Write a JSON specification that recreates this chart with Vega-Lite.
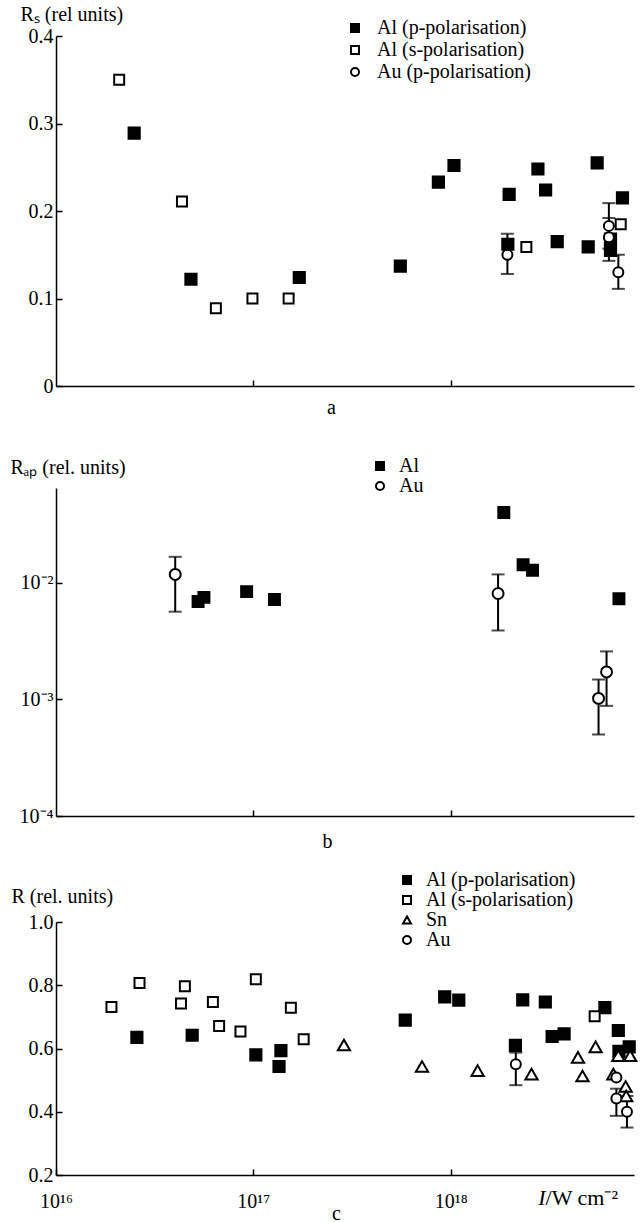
{
  "$schema": "https://vega.github.io/schema/vega-lite/v6.json",
  "padding": {"left": 10, "top": 4, "right": 4, "bottom": 2},
  "datasets": {
    "a": [
      {"I": 2.09e16, "R": 0.350, "s": "Al (s-polarisation)"},
      {"I": 4.35e16, "R": 0.211, "s": "Al (s-polarisation)"},
      {"I": 6.46e16, "R": 0.089, "s": "Al (s-polarisation)"},
      {"I": 9.9e16, "R": 0.100, "s": "Al (s-polarisation)"},
      {"I": 1.51e17, "R": 0.100, "s": "Al (s-polarisation)"},
      {"I": 2.42e18, "R": 0.159, "s": "Al (s-polarisation)"},
      {"I": 7.28e18, "R": 0.185, "s": "Al (s-polarisation)"},
      {"I": 2.49e16, "R": 0.289, "s": "Al (p-polarisation)"},
      {"I": 4.83e16, "R": 0.122, "s": "Al (p-polarisation)"},
      {"I": 1.71e17, "R": 0.124, "s": "Al (p-polarisation)"},
      {"I": 5.56e17, "R": 0.137, "s": "Al (p-polarisation)"},
      {"I": 8.67e17, "R": 0.233, "s": "Al (p-polarisation)"},
      {"I": 1.04e18, "R": 0.252, "s": "Al (p-polarisation)"},
      {"I": 1.98e18, "R": 0.219, "s": "Al (p-polarisation)"},
      {"I": 1.95e18, "R": 0.162, "s": "Al (p-polarisation)"},
      {"I": 2.77e18, "R": 0.248, "s": "Al (p-polarisation)"},
      {"I": 3.03e18, "R": 0.224, "s": "Al (p-polarisation)"},
      {"I": 3.47e18, "R": 0.165, "s": "Al (p-polarisation)"},
      {"I": 4.98e18, "R": 0.159, "s": "Al (p-polarisation)"},
      {"I": 5.53e18, "R": 0.255, "s": "Al (p-polarisation)"},
      {"I": 7.43e18, "R": 0.215, "s": "Al (p-polarisation)"},
      {"I": 6.46e18, "R": 0.168, "s": "Al (p-polarisation)"},
      {"I": 6.46e18, "R": 0.155, "s": "Al (p-polarisation)"},
      {"I": 1.94e18, "R": 0.150, "lo": 0.128, "hi": 0.174, "s": "Au (p-polarisation)"},
      {"I": 6.34e18, "R": 0.183, "lo": 0.157, "hi": 0.209, "s": "Au (p-polarisation)"},
      {"I": 6.34e18, "R": 0.170, "lo": 0.143, "hi": 0.192, "s": "Au (p-polarisation)"},
      {"I": 7.08e18, "R": 0.130, "lo": 0.111, "hi": 0.150, "s": "Au (p-polarisation)"}
    ],
    "b": [
      {"I": 5.25e16, "R": 0.0069, "s": "Al"},
      {"I": 5.62e16, "R": 0.0075, "s": "Al"},
      {"I": 9.25e16, "R": 0.0084, "s": "Al"},
      {"I": 1.28e17, "R": 0.0072, "s": "Al"},
      {"I": 1.86e18, "R": 0.0400, "s": "Al"},
      {"I": 2.33e18, "R": 0.0143, "s": "Al"},
      {"I": 2.60e18, "R": 0.0128, "s": "Al"},
      {"I": 7.13e18, "R": 0.0073, "s": "Al"},
      {"I": 4.02e16, "R": 0.0118, "lo": 0.00565, "hi": 0.0167, "s": "Au"},
      {"I": 1.74e18, "R": 0.0081, "lo": 0.0039, "hi": 0.0118, "s": "Au"},
      {"I": 5.62e18, "R": 0.00102, "lo": 0.0005, "hi": 0.00148, "s": "Au"},
      {"I": 6.17e18, "R": 0.00172, "lo": 0.00088, "hi": 0.00258, "s": "Au"}
    ],
    "c": [
      {"I": 1.91e16, "R": 0.731, "s": "Al (s-polarisation)"},
      {"I": 2.65e16, "R": 0.807, "s": "Al (s-polarisation)"},
      {"I": 4.30e16, "R": 0.742, "s": "Al (s-polarisation)"},
      {"I": 4.50e16, "R": 0.797, "s": "Al (s-polarisation)"},
      {"I": 6.24e16, "R": 0.747, "s": "Al (s-polarisation)"},
      {"I": 6.71e16, "R": 0.671, "s": "Al (s-polarisation)"},
      {"I": 8.61e16, "R": 0.654, "s": "Al (s-polarisation)"},
      {"I": 1.03e17, "R": 0.819, "s": "Al (s-polarisation)"},
      {"I": 1.55e17, "R": 0.729, "s": "Al (s-polarisation)"},
      {"I": 1.80e17, "R": 0.629, "s": "Al (s-polarisation)"},
      {"I": 5.37e18, "R": 0.702, "s": "Al (s-polarisation)"},
      {"I": 2.57e16, "R": 0.635, "s": "Al (p-polarisation)"},
      {"I": 4.90e16, "R": 0.642, "s": "Al (p-polarisation)"},
      {"I": 1.03e17, "R": 0.580, "s": "Al (p-polarisation)"},
      {"I": 1.38e17, "R": 0.593, "s": "Al (p-polarisation)"},
      {"I": 1.35e17, "R": 0.543, "s": "Al (p-polarisation)"},
      {"I": 5.89e17, "R": 0.690, "s": "Al (p-polarisation)"},
      {"I": 9.33e17, "R": 0.763, "s": "Al (p-polarisation)"},
      {"I": 1.10e18, "R": 0.753, "s": "Al (p-polarisation)"},
      {"I": 2.32e18, "R": 0.754, "s": "Al (p-polarisation)"},
      {"I": 3.02e18, "R": 0.747, "s": "Al (p-polarisation)"},
      {"I": 3.27e18, "R": 0.638, "s": "Al (p-polarisation)"},
      {"I": 3.76e18, "R": 0.646, "s": "Al (p-polarisation)"},
      {"I": 2.13e18, "R": 0.610, "s": "Al (p-polarisation)"},
      {"I": 6.05e18, "R": 0.729, "s": "Al (p-polarisation)"},
      {"I": 7.08e18, "R": 0.657, "s": "Al (p-polarisation)"},
      {"I": 7.13e18, "R": 0.591, "s": "Al (p-polarisation)"},
      {"I": 8.04e18, "R": 0.605, "s": "Al (p-polarisation)"},
      {"I": 2.88e17, "R": 0.611, "s": "Sn"},
      {"I": 7.16e17, "R": 0.543, "s": "Sn"},
      {"I": 1.37e18, "R": 0.530, "s": "Sn"},
      {"I": 2.57e18, "R": 0.519, "s": "Sn"},
      {"I": 4.42e18, "R": 0.572, "s": "Sn"},
      {"I": 4.66e18, "R": 0.513, "s": "Sn"},
      {"I": 5.43e18, "R": 0.605, "s": "Sn"},
      {"I": 6.68e18, "R": 0.519, "s": "Sn"},
      {"I": 7.08e18, "R": 0.577, "s": "Sn"},
      {"I": 7.71e18, "R": 0.480, "s": "Sn"},
      {"I": 8.13e18, "R": 0.577, "s": "Sn"},
      {"I": 7.76e18, "R": 0.450, "s": "Sn"},
      {"I": 2.14e18, "R": 0.550, "lo": 0.484, "hi": 0.587, "s": "Au"},
      {"I": 6.92e18, "R": 0.508, "s": "Au"},
      {"I": 6.92e18, "R": 0.442, "lo": 0.387, "hi": 0.473, "s": "Au"},
      {"I": 7.83e18, "R": 0.400, "lo": 0.350, "hi": 0.450, "s": "Au"}
    ],
    "clabel": [
      {"I": 3.03e18, "R": 0.2}
    ]
  },
  "config": {
    "font": "Liberation Serif",
    "view": {"stroke": null},
    "axis": {
      "domainColor": "black", "domainWidth": 1.5,
      "tickColor": "black", "tickWidth": 1.5, "tickSize": -6,
      "labelFont": "Liberation Serif", "labelFontSize": 20, "labelColor": "black",
      "titleFont": "Liberation Serif", "titleFontSize": 20, "titleFontWeight": "normal", "titleColor": "black",
      "grid": false
    },
    "legend": {
      "labelFont": "Liberation Serif", "labelFontSize": 20, "labelColor": "black",
      "padding": 0, "symbolStrokeWidth": 2, "symbolSize": 64
    }
  },
  "spacing": 19,
  "resolve": {"scale": {"x": "independent", "y": "independent", "shape": "independent", "fill": "independent", "stroke": "independent"}, "legend": {"shape": "independent", "fill": "independent", "stroke": "independent"}},
  "vconcat": [
    {
      "width": 578, "height": 350,
      "data": {"name": "a"},
      "encoding": {
        "x": {"field": "I", "type": "quantitative", "scale": {"type": "log", "domain": [1e16, 8.5e18], "nice": false},
          "axis": {"values": [1e17, 1e18], "labels": false, "title": ["a", " "], "titleLineHeight": 20, "titleX": 275, "titleY": 27, "titleBaseline": "alphabetic", "titleAlign": "center"}}
      },
      "layer": [
        {
          "transform": [{"filter": "isValid(datum.lo)"}],
          "mark": {"type": "rule", "color": "black", "strokeWidth": 2},
          "encoding": {
            "y": {"field": "lo", "type": "quantitative", "scale": {"domain": [0, 0.4], "nice": false},
              "axis": {"values": [0, 0.1, 0.2, 0.3, 0.4], "labelExpr": "datum.value == 0 ? '0' : format(datum.value, '.1f')", "labelPadding": 9,
                "title": "Rₛ (rel units)", "titleAngle": 0, "titleAlign": "left", "titleBaseline": "alphabetic", "titleX": -36, "titleY": -16}},
            "y2": {"field": "hi"}
          }
        },
        {
          "transform": [{"filter": "isValid(datum.lo)"}],
          "mark": {"type": "tick", "orient": "horizontal", "color": "black", "size": 13, "thickness": 2},
          "encoding": {"y": {"field": "lo", "type": "quantitative"}}
        },
        {
          "transform": [{"filter": "isValid(datum.hi)"}],
          "mark": {"type": "tick", "orient": "horizontal", "color": "black", "size": 13, "thickness": 2},
          "encoding": {"y": {"field": "hi", "type": "quantitative"}}
        },
        {
          "transform": [{"filter": "datum.s == 'Al (p-polarisation)'"}],
          "mark": {"type": "point", "filled": true, "strokeWidth": 2, "opacity": 1, "size": 125},
          "encoding": {
            "y": {"field": "R", "type": "quantitative"},
            "shape": {"field": "s", "type": "nominal", "scale": {"domain": ["Al (p-polarisation)", "Al (s-polarisation)", "Au (p-polarisation)"], "range": ["square", "square", "circle"]},
              "legend": {"orient": "none", "legendX": 289, "legendY": -18, "title": null, "labelOffset": 12, "rowPadding": 2}},
            "fill": {"field": "s", "type": "nominal", "scale": {"domain": ["Al (p-polarisation)", "Al (s-polarisation)", "Au (p-polarisation)"], "range": ["black", "white", "white"]},
              "legend": {"orient": "none", "legendX": 289, "legendY": -18, "title": null, "labelOffset": 12, "rowPadding": 2}},
            "stroke": {"field": "s", "type": "nominal", "scale": {"domain": ["Al (p-polarisation)", "Al (s-polarisation)", "Au (p-polarisation)"], "range": ["black", "black", "black"]},
              "legend": {"orient": "none", "legendX": 289, "legendY": -18, "title": null, "labelOffset": 12, "rowPadding": 2}}
          }
        },
        {
          "transform": [{"filter": "datum.s != 'Al (p-polarisation)'"}],
          "mark": {"type": "point", "filled": true, "strokeWidth": 2, "opacity": 1, "size": 100},
          "encoding": {
            "y": {"field": "R", "type": "quantitative"},
            "shape": {"field": "s", "type": "nominal", "scale": {"domain": ["Al (p-polarisation)", "Al (s-polarisation)", "Au (p-polarisation)"], "range": ["square", "square", "circle"]},
              "legend": {"orient": "none", "legendX": 289, "legendY": -18, "title": null, "labelOffset": 12, "rowPadding": 2}},
            "fill": {"field": "s", "type": "nominal", "scale": {"domain": ["Al (p-polarisation)", "Al (s-polarisation)", "Au (p-polarisation)"], "range": ["black", "white", "white"]},
              "legend": {"orient": "none", "legendX": 289, "legendY": -18, "title": null, "labelOffset": 12, "rowPadding": 2}},
            "stroke": {"field": "s", "type": "nominal", "scale": {"domain": ["Al (p-polarisation)", "Al (s-polarisation)", "Au (p-polarisation)"], "range": ["black", "black", "black"]},
              "legend": {"orient": "none", "legendX": 289, "legendY": -18, "title": null, "labelOffset": 12, "rowPadding": 2}}
          }
        }
      ]
    },
    {
      "width": 578, "height": 328,
      "data": {"name": "b"},
      "encoding": {
        "x": {"field": "I", "type": "quantitative", "scale": {"type": "log", "domain": [1e16, 8.5e18], "nice": false},
          "axis": {"values": [1e17, 1e18], "labels": false, "title": "b", "titleX": 271, "titleY": 31, "titleBaseline": "alphabetic", "titleAlign": "center"}}
      },
      "layer": [
        {
          "transform": [{"filter": "isValid(datum.lo)"}],
          "mark": {"type": "rule", "color": "black", "strokeWidth": 2},
          "encoding": {
            "y": {"field": "lo", "type": "quantitative", "scale": {"type": "log", "domain": [0.0001, 0.065], "nice": false},
              "axis": {"values": [0.0001, 0.001, 0.01], "labelExpr": "datum.value < 0.0005 ? '10⁻⁴' : datum.value < 0.005 ? '10⁻³' : '10⁻²'", "labelPadding": 9,
                "title": "Rₐₚ (rel. units)", "titleAngle": 0, "titleAlign": "left", "titleBaseline": "alphabetic", "titleX": -46, "titleY": -15}},
            "y2": {"field": "hi"}
          }
        },
        {
          "transform": [{"filter": "isValid(datum.lo)"}],
          "mark": {"type": "tick", "orient": "horizontal", "color": "black", "size": 13, "thickness": 2},
          "encoding": {"y": {"field": "lo", "type": "quantitative"}}
        },
        {
          "transform": [{"filter": "isValid(datum.hi)"}],
          "mark": {"type": "tick", "orient": "horizontal", "color": "black", "size": 13, "thickness": 2},
          "encoding": {"y": {"field": "hi", "type": "quantitative"}}
        },
        {
          "mark": {"type": "point", "filled": true, "strokeWidth": 2, "opacity": 1, "size": 120},
          "encoding": {
            "y": {"field": "R", "type": "quantitative"},
            "shape": {"field": "s", "type": "nominal", "scale": {"domain": ["Al", "Au"], "range": ["square", "circle"]},
              "legend": {"orient": "none", "legendX": 314, "legendY": -32, "title": null, "labelOffset": 9, "rowPadding": 0}},
            "fill": {"field": "s", "type": "nominal", "scale": {"domain": ["Al", "Au"], "range": ["black", "white"]},
              "legend": {"orient": "none", "legendX": 314, "legendY": -32, "title": null, "labelOffset": 9, "rowPadding": 0}},
            "stroke": {"field": "s", "type": "nominal", "scale": {"domain": ["Al", "Au"], "range": ["black", "black"]},
              "legend": {"orient": "none", "legendX": 314, "legendY": -32, "title": null, "labelOffset": 9, "rowPadding": 0}}
          }
        }
      ]
    },
    {
      "width": 578, "height": 253,
      "encoding": {
        "x": {"field": "I", "type": "quantitative", "scale": {"type": "log", "domain": [1e16, 8.5e18], "nice": false},
          "axis": {"values": [1e16, 1e17, 1e18], "labelExpr": "datum.value < 5e16 ? '10¹⁶' : datum.value < 5e17 ? '10¹⁷' : '10¹⁸'", "labelPadding": 22, "labelFlush": false,
            "title": "c", "titleX": 280, "titleY": 44, "titleBaseline": "alphabetic", "titleAlign": "center"}}
      },
      "layer": [
        {
          "data": {"name": "c"},
          "transform": [{"filter": "isValid(datum.lo)"}],
          "mark": {"type": "rule", "color": "black", "strokeWidth": 2},
          "encoding": {
            "y": {"field": "lo", "type": "quantitative", "scale": {"domain": [0.2, 1.0], "nice": false},
              "axis": {"values": [0.2, 0.4, 0.6, 0.8, 1.0], "format": ".1f", "labelPadding": 9,
                "title": "R (rel. units)", "titleAngle": 0, "titleAlign": "left", "titleBaseline": "alphabetic", "titleX": -45, "titleY": -20}},
            "y2": {"field": "hi"}
          }
        },
        {
          "data": {"name": "c"},
          "transform": [{"filter": "isValid(datum.lo)"}],
          "mark": {"type": "tick", "orient": "horizontal", "color": "black", "size": 13, "thickness": 2},
          "encoding": {"y": {"field": "lo", "type": "quantitative"}}
        },
        {
          "data": {"name": "c"},
          "transform": [{"filter": "isValid(datum.hi)"}],
          "mark": {"type": "tick", "orient": "horizontal", "color": "black", "size": 13, "thickness": 2},
          "encoding": {"y": {"field": "hi", "type": "quantitative"}}
        },
        {
          "data": {"name": "c"},
          "transform": [{"filter": "datum.s == 'Al (p-polarisation)'"}],
          "mark": {"type": "point", "filled": true, "strokeWidth": 2, "opacity": 1, "size": 125},
          "encoding": {
            "y": {"field": "R", "type": "quantitative"},
            "shape": {"field": "s", "type": "nominal", "scale": {"domain": ["Al (p-polarisation)", "Al (s-polarisation)", "Sn", "Au"], "range": ["square", "square", "triangle-up", "circle"]},
              "legend": {"orient": "none", "legendX": 341, "legendY": -52, "title": null, "labelOffset": 9, "rowPadding": 0}},
            "fill": {"field": "s", "type": "nominal", "scale": {"domain": ["Al (p-polarisation)", "Al (s-polarisation)", "Sn", "Au"], "range": ["black", "white", "white", "white"]},
              "legend": {"orient": "none", "legendX": 341, "legendY": -52, "title": null, "labelOffset": 9, "rowPadding": 0}},
            "stroke": {"field": "s", "type": "nominal", "scale": {"domain": ["Al (p-polarisation)", "Al (s-polarisation)", "Sn", "Au"], "range": ["black", "black", "black", "black"]},
              "legend": {"orient": "none", "legendX": 341, "legendY": -52, "title": null, "labelOffset": 9, "rowPadding": 0}}
          }
        },
        {
          "data": {"name": "c"},
          "transform": [{"filter": "datum.s == 'Sn'"}],
          "mark": {"type": "point", "filled": true, "strokeWidth": 2, "opacity": 1, "size": 150},
          "encoding": {
            "y": {"field": "R", "type": "quantitative"},
            "shape": {"field": "s", "type": "nominal", "scale": {"domain": ["Al (p-polarisation)", "Al (s-polarisation)", "Sn", "Au"], "range": ["square", "square", "triangle-up", "circle"]},
              "legend": {"orient": "none", "legendX": 341, "legendY": -52, "title": null, "labelOffset": 9, "rowPadding": 0}},
            "fill": {"field": "s", "type": "nominal", "scale": {"domain": ["Al (p-polarisation)", "Al (s-polarisation)", "Sn", "Au"], "range": ["black", "white", "white", "white"]},
              "legend": {"orient": "none", "legendX": 341, "legendY": -52, "title": null, "labelOffset": 9, "rowPadding": 0}},
            "stroke": {"field": "s", "type": "nominal", "scale": {"domain": ["Al (p-polarisation)", "Al (s-polarisation)", "Sn", "Au"], "range": ["black", "black", "black", "black"]},
              "legend": {"orient": "none", "legendX": 341, "legendY": -52, "title": null, "labelOffset": 9, "rowPadding": 0}}
          }
        },
        {
          "data": {"name": "c"},
          "transform": [{"filter": "datum.s == 'Al (s-polarisation)' || datum.s == 'Au'"}],
          "mark": {"type": "point", "filled": true, "strokeWidth": 2, "opacity": 1, "size": 100},
          "encoding": {
            "y": {"field": "R", "type": "quantitative"},
            "shape": {"field": "s", "type": "nominal", "scale": {"domain": ["Al (p-polarisation)", "Al (s-polarisation)", "Sn", "Au"], "range": ["square", "square", "triangle-up", "circle"]},
              "legend": {"orient": "none", "legendX": 341, "legendY": -52, "title": null, "labelOffset": 9, "rowPadding": 0}},
            "fill": {"field": "s", "type": "nominal", "scale": {"domain": ["Al (p-polarisation)", "Al (s-polarisation)", "Sn", "Au"], "range": ["black", "white", "white", "white"]},
              "legend": {"orient": "none", "legendX": 341, "legendY": -52, "title": null, "labelOffset": 9, "rowPadding": 0}},
            "stroke": {"field": "s", "type": "nominal", "scale": {"domain": ["Al (p-polarisation)", "Al (s-polarisation)", "Sn", "Au"], "range": ["black", "black", "black", "black"]},
              "legend": {"orient": "none", "legendX": 341, "legendY": -52, "title": null, "labelOffset": 9, "rowPadding": 0}}
          }
        },
        {
          "data": {"name": "clabel"},
          "mark": {"type": "text", "text": "I", "fontStyle": "italic", "fontSize": 22, "align": "right", "baseline": "alphabetic", "dy": 30, "color": "black"},
          "encoding": {"y": {"field": "R", "type": "quantitative"}}
        },
        {
          "data": {"name": "clabel"},
          "mark": {"type": "text", "text": "/W cm⁻²", "fontSize": 22, "align": "left", "baseline": "alphabetic", "dy": 30, "color": "black"},
          "encoding": {"y": {"field": "R", "type": "quantitative"}}
        }
      ]
    }
  ]
}
